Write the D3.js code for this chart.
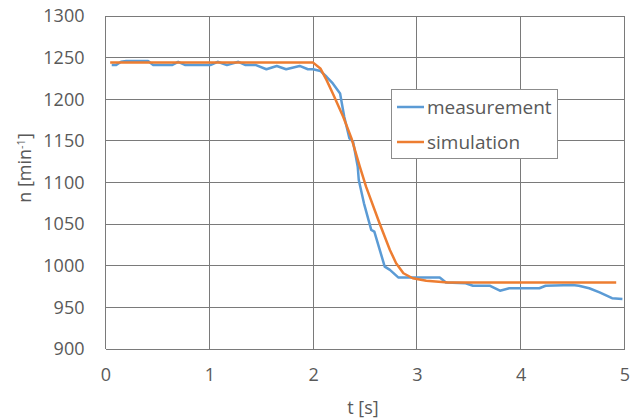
<!DOCTYPE html>
<html><head><meta charset="utf-8">
<script src="https://cdn.jsdelivr.net/npm/d3@7/dist/d3.min.js"></script>
<style>body{margin:0;background:#fff}svg{display:block}text{font-family:"Open Sans",sans-serif;fill:#595959}</style>
</head><body><svg id="c" width="640" height="420"></svg>
<script>
const xTicks = [0,1,2,3,4,5];
const yTicks = [900,950,1000,1050,1100,1150,1200,1250,1300];
const measT = [0.06,0.10,0.15,0.20,0.30,0.41,0.46,0.55,0.64,0.70,0.77,0.90,1.01,1.08,1.17,1.28,1.35,1.45,1.55,1.65,1.74,1.87,1.95,2.00,2.07,2.13,2.19,2.26,2.30,2.35,2.385,2.40,2.43,2.44,2.49,2.56,2.59,2.69,2.74,2.82,3.00,3.22,3.28,3.47,3.54,3.70,3.80,3.89,4.18,4.24,4.50,4.56,4.66,4.76,4.88,4.98];
const measN = [1241,1241,1245,1246,1246,1246,1241,1241,1241,1245,1241,1241,1241,1245,1241,1245,1241,1241,1236,1240,1236,1240,1236,1236,1234,1227,1219,1207,1179,1153,1149,1139,1119,1103,1075,1043,1041,999,995,986,986,986,980,979,976,976,970,973,973,976,977,976,973,968,961,960];
const simT = [0.045,1.0,2.0,2.07,2.13,2.19,2.29,2.37,2.45,2.51,2.64,2.74,2.80,2.87,2.96,3.09,3.3,4.92];
const simN = [1244,1244,1244,1237,1223,1207,1179,1153,1119,1095,1051,1019,1003,991,985,982,980,980];
const seriesNames = ["measurement","simulation"];
const colors = ["#5B9BD5","#ED7D31"];

const svg = d3.select("#c");
const L=105.5, R=624.5, T=16, B=349;
const x = d3.scaleLinear().domain([0,5]).range([L,R]);
const y = d3.scaleLinear().domain([900,1300]).range([B,T]);

const grid = svg.append("g").attr("stroke","#7a7a7a").attr("stroke-width",1).attr("shape-rendering","crispEdges");
yTicks.forEach(v=>grid.append("line").attr("x1",L).attr("x2",R).attr("y1",y(v)).attr("y2",y(v)));
xTicks.forEach(v=>grid.append("line").attr("x1",x(v)).attr("x2",x(v)).attr("y1",T).attr("y2",B));

const yAxis = svg.append("g").attr("transform",`translate(${L},0)`)
  .call(d3.axisLeft(y).tickValues(yTicks).tickSize(0).tickPadding(21).tickFormat(d3.format("d")));
yAxis.select(".domain").remove();
yAxis.selectAll("text").style("font-size","18px").style("fill","#595959");
const xAxis = svg.append("g").attr("transform",`translate(0,${B})`)
  .call(d3.axisBottom(x).tickValues(xTicks).tickSize(0).tickPadding(19).tickFormat(d3.format("d")));
xAxis.select(".domain").remove();
xAxis.selectAll("text").style("font-size","18px").style("fill","#595959");

const line = d3.line().x(d=>x(d[0])).y(d=>y(d[1]));
const meas = measT.map((t,i)=>[t,measN[i]]);
const sim = simT.map((t,i)=>[t,simN[i]]);
svg.append("path").datum(meas).attr("d",line).attr("fill","none").attr("stroke",colors[0]).attr("stroke-width",2.5).attr("stroke-linejoin","round");
svg.append("path").datum(sim).attr("d",line).attr("fill","none").attr("stroke",colors[1]).attr("stroke-width",2.5).attr("stroke-linejoin","round");

svg.append("text").attr("x",(L+R)/2 - 2).attr("y",414).attr("text-anchor","middle").style("font-size","18px").text("t [s]");
const yl = svg.append("text").attr("transform","translate(31,168) rotate(-90)").attr("text-anchor","middle").style("font-size","18px");
yl.append("tspan").text("n [min");
yl.append("tspan").attr("dy",-6).style("font-size","11px").text("-1");
yl.append("tspan").attr("dy",6).text("]");

const lg = svg.append("g");
lg.append("rect").attr("x",391).attr("y",89).attr("width",166).attr("height",69).attr("fill","#fff").attr("stroke","#8c8c8c").attr("shape-rendering","crispEdges");
seriesNames.forEach((n,i)=>{
  const cy = 107 + i*35;
  lg.append("line").attr("x1",397).attr("x2",424).attr("y1",cy).attr("y2",cy).attr("stroke",colors[i]).attr("stroke-width",2.5);
  lg.append("text").attr("x",427).attr("y",cy).attr("dy","0.35em").style("font-size","19px").text(n);
});
</script></body></html>
